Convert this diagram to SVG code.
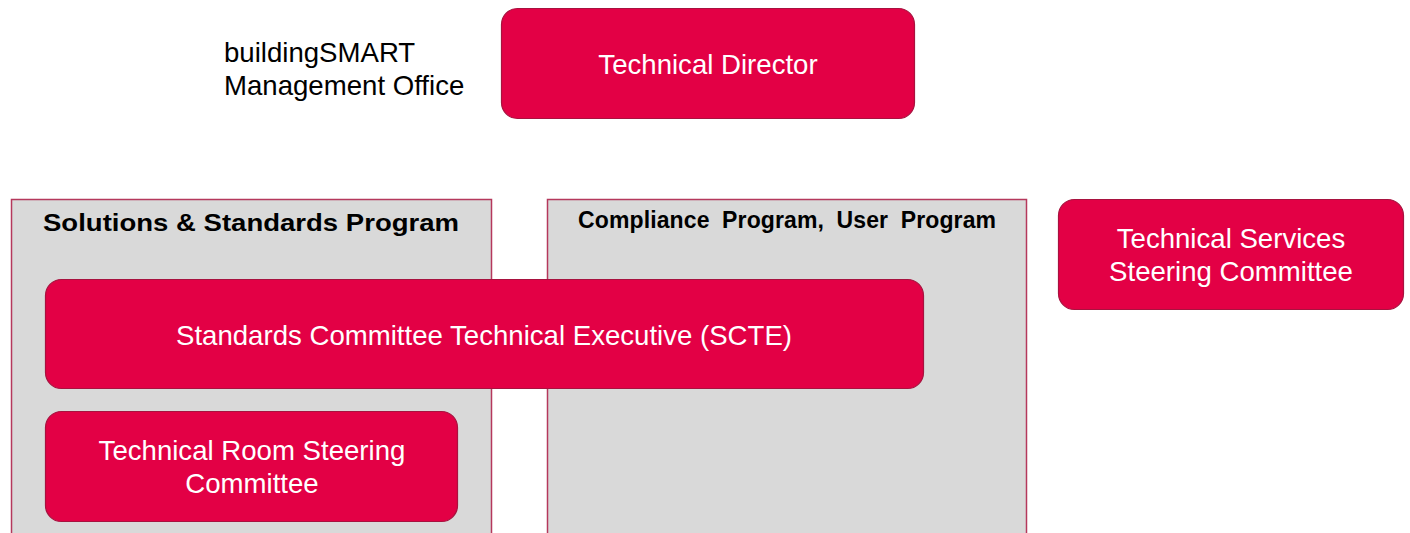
<svg xmlns="http://www.w3.org/2000/svg" width="1410" height="533" viewBox="0 0 1410 533">
  <style>
    .prog { fill: #d9d9d9; stroke: #b5385c; stroke-width: 1.5; }
    .box { fill: #e30045; stroke: #a8123f; stroke-width: 1.2; }
    .lbl { font-family: "Liberation Sans", Arial, sans-serif; font-size: 27.6px; fill: #ffffff; text-anchor: middle; }
    .plain { font-family: "Liberation Sans", Arial, sans-serif; font-size: 27.6px; fill: #000000; }
    .head { font-family: "Liberation Sans", Arial, sans-serif; font-weight: bold; fill: #000000; }
  </style>
  <rect width="1410" height="533" fill="#ffffff"/>

  <g id="mgmt-office">
    <text class="plain" x="224" y="62">buildingSMART</text>
    <text class="plain" x="224" y="95">Management Office</text>
  </g>

  <g id="technical-director">
    <rect class="box" x="501.5" y="8.5" width="413" height="110" rx="16"/>
    <text class="lbl" x="708" y="74">Technical Director</text>
  </g>

  <g id="solutions-program">
    <rect class="prog" x="11.5" y="199.5" width="480" height="345"/>
    <text class="head" x="43" y="231" font-size="24" textLength="416" lengthAdjust="spacingAndGlyphs">Solutions &amp; Standards Program</text>
  </g>

  <g id="compliance-program">
    <rect class="prog" x="547.5" y="199.5" width="479" height="345"/>
    <text class="head" x="578" y="228" font-size="23" word-spacing="6" textLength="418">Compliance Program, User Program</text>
  </g>

  <g id="scte">
    <rect class="box" x="45.5" y="279.5" width="878" height="109" rx="16"/>
    <text class="lbl" x="484" y="345">Standards Committee Technical Executive (SCTE)</text>
  </g>

  <g id="tech-room-sc">
    <rect class="box" x="45.5" y="411.5" width="412" height="110" rx="16"/>
    <text class="lbl" x="252" y="460">Technical Room Steering</text>
    <text class="lbl" x="252" y="493">Committee</text>
  </g>

  <g id="tech-services-sc">
    <rect class="box" x="1058.5" y="199.5" width="345" height="110" rx="16"/>
    <text class="lbl" x="1231" y="248">Technical Services</text>
    <text class="lbl" x="1231" y="281">Steering Committee</text>
  </g>

  <g id="connectors"></g>
</svg>
